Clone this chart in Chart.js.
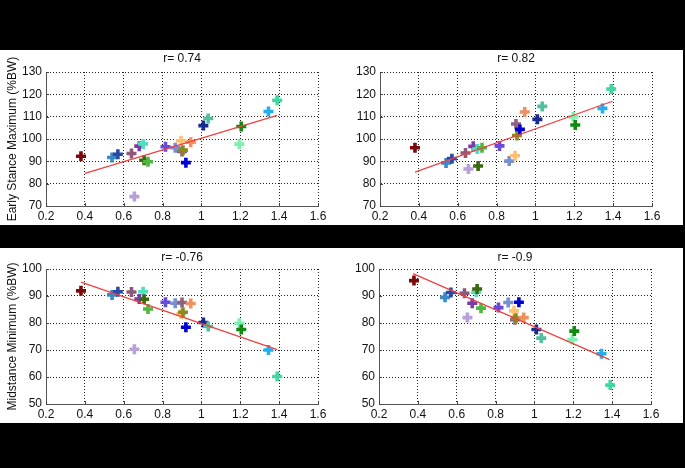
<!DOCTYPE html>
<html>
<head>
<meta charset="utf-8">
<script src="https://cdn.jsdelivr.net/npm/chart.js@4"></script>
<style>
  html, body { margin: 0; padding: 0; background: #000; }
  body { width: 685px; height: 468px; position: relative; overflow: hidden; }
  .panel { position: absolute; background: #fff; }
  .box { position: absolute; }
</style>
</head>
<body>
<div class="panel" style="left:0;top:50px;width:683px;height:175px"></div>
<div class="panel" style="left:0;top:248px;width:683px;height:175px"></div>
<div class="box" style="left:0;top:50px;width:340px;height:175px"><canvas id="c1"></canvas></div>
<div class="box" style="left:340px;top:50px;width:343px;height:175px"><canvas id="c2"></canvas></div>
<div class="box" style="left:0;top:248px;width:340px;height:175px"><canvas id="c3"></canvas></div>
<div class="box" style="left:340px;top:248px;width:343px;height:175px"><canvas id="c4"></canvas></div>
<script>
// one value per subject, same order in every array
const xValues = [0.38, 0.54, 0.57, 0.64, 0.655, 0.68, 0.70, 0.705, 0.725, 0.815, 0.865,
                 0.895, 0.90, 0.905, 0.92, 0.945, 1.01, 1.035, 1.195, 1.205, 1.345, 1.39];
const earlyLeft  = [92.3, 91.7, 93.2, 93.5, 74.2, 96.8, 97.8, 90.5, 89.8, 96.5, 96.1,
                    99.2, 94.4, 95.0, 89.4, 98.6, 106.0, 109.2, 97.7, 105.6, 112.3, 117.3];
const earlyRight = [96.1, 89.3, 91.2, 93.7, 86.6, 96.7, 95.5, 87.9, 96.1, 96.9, 90.1,
                    92.5, 106.7, 101.6, 104.3, 112.1, 108.8, 114.6, 109.9, 106.3, 113.7, 122.4];
const midLeft    = [91.9, 90.4, 91.6, 91.5, 70.3, 88.9, 91.6, 88.8, 85.2, 87.7, 87.3,
                    83.3, 87.6, 84.0, 78.4, 87.2, 80.2, 78.7, 79.9, 77.6, 70.0, 60.2];
const midRight   = [95.7, 89.5, 91.3, 91.0, 82.0, 87.3, 91.4, 92.6, 85.5, 85.7, 87.6,
                    84.5, 81.2, 81.8, 87.7, 82.0, 77.6, 74.4, 73.9, 77.0, 68.6, 57.0];
const subjectColors = ["#7a0a0a", "#3a8ac8", "#2a4aa8", "#8a5a78", "#b8a0d8", "#7a3aa8",
                       "#50e0c0", "#3a6a10", "#50b840", "#6a4ad8", "#7890d0", "#ffc070",
                       "#906080", "#8a8a20", "#0000d0", "#f09060", "#1a2a90", "#50c0a0",
                       "#80f0b0", "#108a10", "#20b0f0", "#40d8a0"];

// fitted line end points
const fitX = [[0.40, 1.39], [0.38, 1.396], [0.38, 1.39], [0.375, 1.387]];
const fitY = [[84.6, 110.6], [85.2, 116.9], [95.1, 70.1], [98.3, 66.4]];
const titles = ["r= 0.74", "r= 0.82", "r= -0.76", "r= -0.9"];
const yLabels = ["Early Stance Maximum (%BW)", "", "Midstance Minimum (%BW)", ""];
const xTicks = [0.2, 0.4, 0.6, 0.8, 1, 1.2, 1.4, 1.6];
const yRanges = [[70, 130], [70, 130], [50, 100], [50, 100]];
const series = [earlyLeft, earlyRight, midLeft, midRight];

const FONT = "'Liberation Sans Narrow', 'Liberation Sans', Arial, sans-serif";

// MATLAB style ticks pointing into the axes
const inwardTicks = {
    id: "inwardTicks",
    afterDatasetsDraw(chart) {
        const { ctx, chartArea, scales } = chart;
        ctx.save();
        ctx.strokeStyle = "#444";
        ctx.lineWidth = 1;
        ctx.beginPath();
        scales.x.ticks.forEach(t => {
            const px = Math.round(scales.x.getPixelForValue(t.value)) + 0.5;
            ctx.moveTo(px, chartArea.bottom);
            ctx.lineTo(px, chartArea.bottom - 3);
        });
        scales.y.ticks.forEach(t => {
            const py = Math.round(scales.y.getPixelForValue(t.value)) + 0.5;
            ctx.moveTo(chartArea.left, py);
            ctx.lineTo(chartArea.left + 3, py);
        });
        ctx.stroke();
        ctx.restore();
    }
};

const layouts = [
    { axisW: 46, padRight: 22, titlePad: { top: 1, bottom: 6.6 } },
    { axisW: 40, padRight: 31, titlePad: { top: 1, bottom: 6.6 } },
    { axisW: 46, padRight: 22, titlePad: { top: 2, bottom: 4.6 } },
    { axisW: 39, padRight: 32, titlePad: { top: 2, bottom: 4.6 } }
];

for (let i = 0; i < 4; i++) {
    const pts = xValues.map((x, k) => ({ x: x, y: series[i][k] }));
    const fit = fitX[i].map((x, k) => ({ x: x, y: fitY[i][k] }));
    const L = layouts[i];
    new Chart(document.getElementById("c" + (i + 1)), {
        type: "scatter",
        data: {
            datasets: [{
                data: fit,
                type: "line",
                borderColor: "#f04040",
                borderWidth: 1.3,
                pointRadius: 0,
                fill: false
            }, {
                data: pts,
                pointStyle: "cross",
                pointRadius: 5,
                pointBorderWidth: 3.6,
                pointBorderColor: subjectColors,
                pointBackgroundColor: subjectColors
            }]
        },
        options: {
            responsive: true,
            maintainAspectRatio: false,
            animation: false,
            layout: { padding: { left: 0, right: L.padRight, top: 0, bottom: 0 } },
            plugins: {
                legend: { display: false },
                tooltip: { enabled: false },
                title: {
                    display: true,
                    text: titles[i],
                    fullSize: false,
                    color: "#111",
                    font: { family: FONT, size: 12, weight: "normal", lineHeight: 1.2 },
                    padding: L.titlePad
                }
            },
            scales: {
                x: {
                    type: "linear",
                    min: 0.2,
                    max: 1.6,
                    afterBuildTicks: s => { s.ticks = xTicks.map(v => ({ value: v })); },
                    afterFit: s => { s.height = 19; },
                    ticks: {
                        color: "#111",
                        padding: 3,
                        maxRotation: 0,
                        font: { family: FONT, size: 12 },
                        callback: v => String(+v.toFixed(1))
                    },
                    grid: { color: "#222", lineWidth: 1, drawTicks: false },
                    border: { display: true, color: "#555", width: 1, dash: [1, 2] }
                },
                y: {
                    min: yRanges[i][0],
                    max: yRanges[i][1],
                    afterFit: s => { s.width = L.axisW; },
                    ticks: {
                        stepSize: 10,
                        color: "#111",
                        padding: 4,
                        font: { family: FONT, size: 12 }
                    },
                    grid: { color: "#222", lineWidth: 1, drawTicks: false },
                    border: { display: true, color: "#555", width: 1, dash: [1, 2] },
                    title: {
                        display: yLabels[i] !== "",
                        text: yLabels[i],
                        color: "#111",
                        font: { family: FONT, size: 12 },
                        padding: { top: 5, bottom: 0 }
                    }
                }
            }
        },
        plugins: [inwardTicks]
    });
}
</script>
</body>
</html>
